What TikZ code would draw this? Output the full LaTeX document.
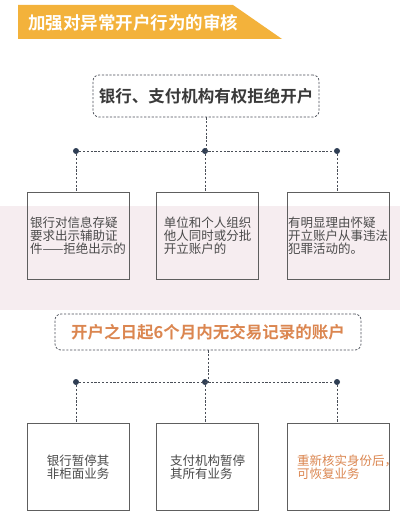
\documentclass[tikz,border=0pt]{standalone}
\usepackage{fontspec}
\newfontfamily\cjk{Noto Sans CJK SC}
\newfontfamily\cjkb{Noto Sans CJK SC Bold}
\definecolor{bannerc}{HTML}{F3B23B}
\definecolor{darktext}{HTML}{3A3A3A}
\definecolor{bodytext}{HTML}{4A4A4A}
\definecolor{orangetext}{HTML}{DB8650}
\definecolor{linec}{HTML}{4A4F58}
\definecolor{dotc}{HTML}{2F3E54}
\definecolor{boxc}{HTML}{5E5E5E}
\definecolor{bandc}{HTML}{F6EDF0}
\begin{document}
\begin{tikzpicture}[x=1pt,y=-1pt,
  dashline/.style={draw=linec, line width=0.7pt, dash pattern=on 2.2pt off 1.6pt},
  titlebox/.style={dashline, rounded corners=6pt, inner sep=0pt, font=\cjkb\fontsize{16.5}{18}\selectfont},
  cbox/.style={draw=boxc, line width=0.8pt, minimum width=102pt, minimum height=87pt, inner sep=0pt},
  dotn/.style={circle, fill=dotc, inner sep=0pt, minimum size=6pt},
  btxt/.style={font=\cjk\fontsize{12.5}{13}\selectfont, text=bodytext, align=left, inner sep=0pt}
]
\useasboundingbox (0,0) rectangle (400,519);
\fill[white] (0,0) rectangle (400,519);
% banner
\fill[bannerc] (18,5) -- (233,5) -- (282,39) -- (18,39) -- cycle;
\node[font=\cjkb\fontsize{17.5}{19}\selectfont, text=white, inner sep=0pt] (banner) at (133,22.5) {加强对异常开户行为的审核};
% pink band
\fill[bandc] (0,206) rectangle (400,310);
% ---------- section 1
\node[titlebox, minimum width=226pt, minimum height=42pt, text=darktext] (t1) at (206,96) {银行、支付机构有权拒绝开户};
\node[dotn] (d1l) at (76,151) {};
\node[dotn] (d1m) at (205,151) {};
\node[dotn] (d1r) at (337,151) {};
\node[cbox] (b1a) at (78,235.5) {};
\node[cbox] (b1b) at (207.5,235.5) {};
\node[cbox] (b1c) at (338,235.5) {};
\node[btxt] (x1a) at (b1a) {银行对信息存疑\\要求出示辅助证\\件——拒绝出示的};
\node[btxt] (x1b) at (b1b) {单位和个人组织\\他人同时或分批\\开立账户的};
\node[btxt] (x1c) at (b1c) {有明显理由怀疑\\开立账户从事违法\\犯罪活动的。};
\draw[dashline] (t1.south) -- (t1.south |- d1m);
\draw[dashline] (d1l) -- (d1r);
\draw[dashline] (d1l) -- (d1l |- b1a.north);
\draw[dashline] (d1m) -- (d1m |- b1b.north);
\draw[dashline] (d1r) -- (d1r |- b1c.north);
% ---------- section 2
\node[titlebox, minimum width=306pt, minimum height=36pt, text=orangetext] (t2) at (208,332) {开户之日起6个月内无交易记录的账户};
\node[dotn] (d2l) at (76,382) {};
\node[dotn] (d2m) at (205,382) {};
\node[dotn] (d2r) at (337,382) {};
\node[cbox] (b2a) at (78,467) {};
\node[cbox] (b2b) at (207.5,467) {};
\node[cbox] (b2c) at (338,467) {};
\node[btxt] (x2a) at (b2a) {银行暂停其\\非柜面业务};
\node[btxt] (x2b) at (b2b) {支付机构暂停\\其所有业务};
\node[btxt, anchor=west, text=orangetext] (x2c) at (297,467.5) {重新核实身份后，\\可恢复业务};
\draw[dashline] (t2.south) -- (t2.south |- d2m);
\draw[dashline] (d2l) -- (d2r);
\draw[dashline] (d2l) -- (d2l |- b2a.north);
\draw[dashline] (d2m) -- (d2m |- b2b.north);
\draw[dashline] (d2r) -- (d2r |- b2c.north);
\end{tikzpicture}
\end{document}
